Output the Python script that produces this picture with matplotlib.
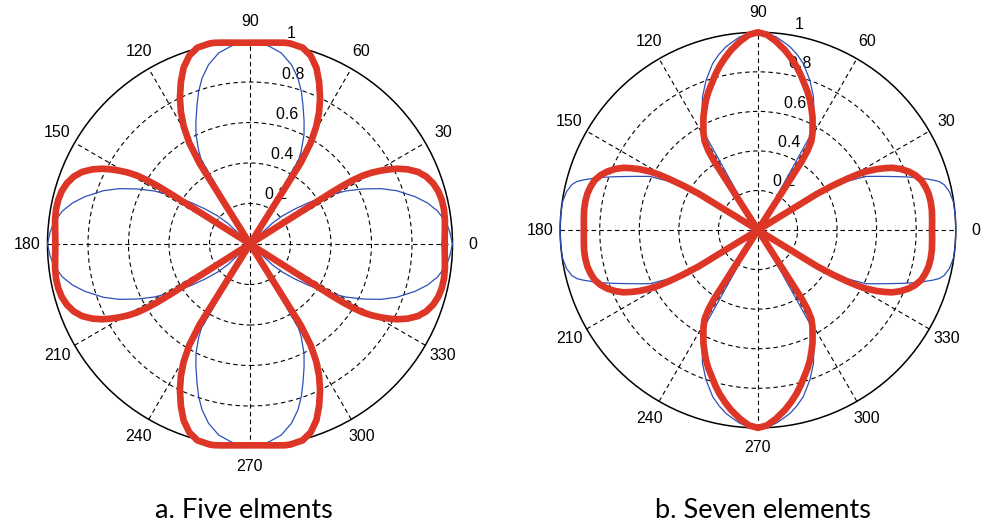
import numpy as np
import matplotlib.pyplot as plt
from matplotlib.patches import Circle

# first-quadrant samples of each pattern (angle in degrees, normalised |AF|),
# listed in order along the curve; the patterns are symmetric about both
# axes, the rest of the circle is mirrored below
five_blue_deg = [0, 3, 6, 10, 13, 16, 20, 23, 26, 29, 32, 35, 38, 41, 43, 45,
                 60, 61.1, 63.7, 66.2, 69.2, 71.4, 73.9, 77, 80.7, 84.3, 87, 90]
five_blue_r = [1.0, 0.99, 0.977, 0.94, 0.90, 0.848, 0.77, 0.70, 0.62, 0.54, 0.45,
               0.36, 0.28, 0.21, 0.15, 0.0,
               0.48, 0.523, 0.602, 0.662, 0.736, 0.795, 0.853, 0.909, 0.956, 0.98, 0.995, 1.0]

five_red_deg = [0, 3.6, 7.1, 10.1, 12.8, 15.6, 18.3, 20.9, 23.2, 25.3, 27.0, 28.14,
                29.3, 30.39, 31.27, 31.78, 32.14, 32.31, 45,
                58.0, 59.04, 60.58, 62.32, 64.33, 66.91, 69.35, 72.12, 75.0, 78.58,
                80, 82.5, 85, 87.5, 90]
five_red_r = [0.961, 0.964, 0.970, 0.973, 0.972, 0.966, 0.953, 0.932, 0.903, 0.862, 0.819, 0.782,
              0.740, 0.696, 0.649, 0.600, 0.543, 0.473, 0.0,
              0.472, 0.583, 0.666, 0.734, 0.799, 0.870, 0.930, 0.977, 1.004, 1.010,
              1.009, 1.003, 0.998, 0.995, 0.994]

seven_blue_deg = [0, 2.5, 5, 8.3, 11.4, 13.7, 15, 16, 17.2, 18.4, 20.2, 22.2, 24.3, 26.4,
                  28.5, 30, 31, 45,
                  61, 61.4, 64.4, 67.4, 70.9, 74.8, 77.5, 80.1, 82.5, 84.5, 87, 90]
seven_blue_r = [1.0, 1.0, 1.0, 0.998, 0.987, 0.969, 0.948, 0.919, 0.88, 0.842, 0.78, 0.717,
                0.66, 0.61, 0.52, 0.42, 0.3, 0.0,
                0.55, 0.576, 0.654, 0.73, 0.802, 0.873, 0.91, 0.941, 0.962, 0.98, 0.995, 1.0]

seven_red_deg = [0, 3.25, 6.5, 9.4, 12.1, 14.6, 17.0, 19.3, 21.3, 23.2, 24.85, 26.06,
                 27.17, 28.46, 29.25, 29.92, 30.74, 31.52, 45,
                 57.5, 58.0, 59.0, 60.6, 62.5, 64.3, 66.3, 68.2, 70.3, 72.5, 74.6, 76.7,
                 79.0, 81.5, 84.6, 87.4, 90]
seven_red_r = [0.88, 0.882, 0.885, 0.885, 0.882, 0.874, 0.863, 0.842, 0.816, 0.784, 0.749, 0.712,
               0.674, 0.621, 0.573, 0.519, 0.442, 0.352, 0.0,
               0.409, 0.472, 0.524, 0.561, 0.598, 0.636, 0.672, 0.708, 0.743, 0.777, 0.814, 0.849,
               0.884, 0.920, 0.959, 0.989, 1.0]

ring_levels = [0.2, 0.4, 0.6, 0.8, 1.0]
ring_labels = ["0.2", "0.4", "0.6", "0.8", "1"]
spoke_deg = [0, 30, 60, 90, 120, 150]
angle_deg = [0, 30, 60, 90, 120, 150, 180, 210, 240, 270, 300, 330]

captions = ["a. Five elments", "b. Seven elements"]

tick_font = ["Liberation Sans", "DejaVu Sans"]
red = "#dd3526"
blue = "#2f4fb8"
dash = (0, (4, 3))


def full_circle(deg, r):
    deg = np.asarray(deg, dtype=float)
    r = np.asarray(r, dtype=float)
    t = np.concatenate([deg, 180 - deg[::-1], 180 + deg, 360 - deg[::-1]])
    rr = np.concatenate([r, r[::-1], r, r[::-1]])
    return np.radians(t), rr


def polar_frame(ax):
    # matlab style polar grid: dashed rings + spokes, solid rim
    for ring in ring_levels[:-1]:
        ax.add_patch(Circle((0, 0), ring, fill=False, ec="k", lw=0.8, ls=dash, zorder=1))
    ax.add_patch(Circle((0, 0), ring_levels[-1], fill=False, ec="k", lw=1.1, zorder=1))
    for a in spoke_deg:
        c, s = np.cos(np.radians(a)), np.sin(np.radians(a))
        ax.plot([-c, c], [-s, s], color="k", lw=0.8, ls=dash, zorder=1)
    for a in angle_deg:
        c, s = np.cos(np.radians(a)), np.sin(np.radians(a))
        ax.text(1.1 * c, 1.1 * s, str(a), ha="center", va="center",
                fontsize=11.5, family=tick_font, zorder=2)
    c82, s82 = np.cos(np.radians(82)), np.sin(np.radians(82))
    for ring, lab in zip(ring_levels, ring_labels):
        ax.text((ring + 0.01) * c82, (ring + 0.01) * s82, "  " + lab, ha="left",
                va="bottom", fontsize=11.5, family=tick_font, zorder=2)


def pattern(ax, deg, r, color, lw, z):
    t, rr = full_circle(deg, r)
    ax.plot(rr * np.cos(t), rr * np.sin(t), color=color, lw=lw, zorder=z,
            solid_joinstyle="round", solid_capstyle="round")


fig = plt.figure(figsize=(9.84, 5.24), dpi=100)

# left panel: centre (250, 244) px, rim radius ~202 px
ax1 = fig.add_axes([0.00711, 0.0706, 0.4939, 0.9275])
# right panel: centre (758, 230) px, rim radius ~198 px
ax2 = fig.add_axes([0.5291, 0.1080, 0.4824, 0.9059])

panels = [
    (ax1, five_blue_deg, five_blue_r, five_red_deg, five_red_r),
    (ax2, seven_blue_deg, seven_blue_r, seven_red_deg, seven_red_r),
]
for ax, bd, br, rd, rr in panels:
    ax.set_xlim(-1.2, 1.2)
    ax.set_ylim(-1.2, 1.2)
    ax.axis("off")
    polar_frame(ax)
    pattern(ax, bd, br, blue, 0.9, 3)
    pattern(ax, rd, rr, red, 4.8, 4)

fig.text(244 / 984, 6 / 524, captions[0], ha="center", va="baseline",
         fontsize=19.5, family=["Lato", "DejaVu Sans"])
fig.text(763 / 984, 6 / 524, captions[1], ha="center", va="baseline",
         fontsize=19.5, family=["Lato", "DejaVu Sans"])

fig.savefig("out.png", dpi=100)
